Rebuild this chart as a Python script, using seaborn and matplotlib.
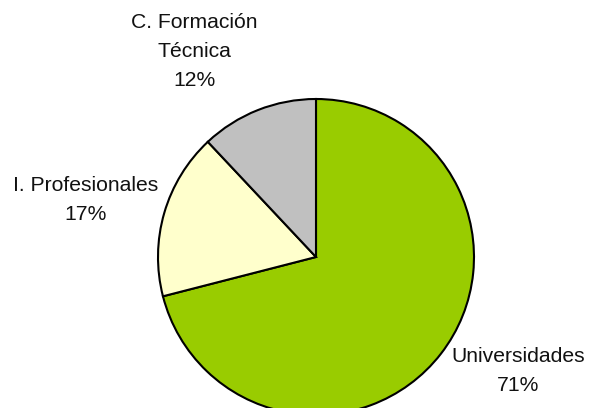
"""Pie chart of enrollment share by type of institution."""

import matplotlib
matplotlib.use('Agg')
import matplotlib.pyplot as plt
import seaborn as sns

# Data
categories = ['Universidades', 'I. Profesionales', 'C. Formación\nTécnica']
shares = [71, 17, 12]
colors = ['#99CC00', '#FFFFCC', '#C0C0C0']

# label anchor points (data coords, pie radius = 1)
label_pos = [(1.28, -0.72), (-1.46, 0.36), (-0.77, 1.30)]

sns.set_style('white')
plt.rcParams['font.family'] = ['Liberation Sans', 'DejaVu Sans']

fig = plt.figure(figsize=(5.9, 4.08), dpi=100)
ax = fig.add_axes([158 / 590, 1 - 415 / 408, 316 / 590, 316 / 408])

ax.pie(shares, colors=colors, startangle=90, counterclock=False,
       radius=1, wedgeprops={'edgecolor': 'black', 'linewidth': 1.5})
ax.set_xlim(-1, 1)
ax.set_ylim(-1, 1)
ax.set_aspect('equal')
ax.axis('off')

for name, val, (x, y) in zip(categories, shares, label_pos):
    ax.text(x, y, f'{name}\n{val}%', ha='center', va='center',
            fontsize=15.2, linespacing=1.65, color='#111111', clip_on=False)

fig.savefig('out.png', dpi=100)
